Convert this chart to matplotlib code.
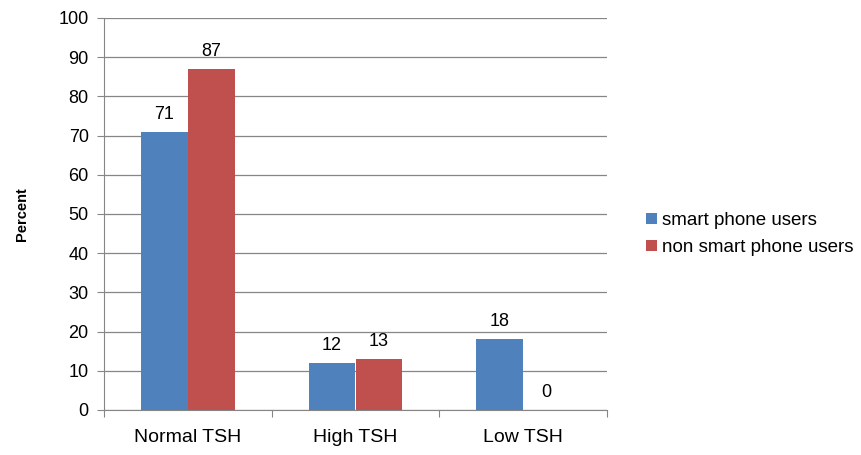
import matplotlib.pyplot as plt
import numpy as np

plt.rcParams["font.family"] = ["Liberation Sans", "DejaVu Sans"]

categories = ["Normal TSH", "High TSH", "Low TSH"]
smart = [71, 12, 18]
non_smart = [87, 13, 0]
series_names = ["smart phone users", "non smart phone users"]

fig = plt.figure(figsize=(8.61, 4.55), dpi=100)
ax = fig.add_axes([104 / 861, 45 / 455, 503 / 861, 392 / 455])

x = np.arange(len(categories))
w = 0.28
b1 = ax.bar(x - w / 2, smart, w, color="#4F81BD", label=series_names[0], zorder=3)
b2 = ax.bar(x + w / 2, non_smart, w, color="#C0504D", label=series_names[1], zorder=3)

for bars in (b1, b2):
    for r in bars:
        ax.text(r.get_x() + r.get_width() / 2, r.get_height() + 2.3, f"{r.get_height():.0f}",
                ha="center", va="bottom", fontsize=13)

ax.set_xlim(-0.5, 2.5)
ax.set_ylim(0, 100)
ax.set_yticks(range(0, 101, 10))
ax.yaxis.grid(True, color="#868686", lw=0.9, zorder=0)
ax.set_xticks([-0.5, 0.5, 1.5, 2.5], minor=False)
ax.set_xticklabels([])
ax.set_xticks(x, minor=True)
ax.set_xticklabels(categories, minor=True, fontsize=14)
ax.tick_params(axis="x", which="minor", length=0, pad=14)
ax.tick_params(axis="x", which="major", length=5, color="#868686")
ax.tick_params(axis="y", length=5, color="#868686", labelsize=13, pad=6)
for s in ["top", "right"]:
    ax.spines[s].set_visible(False)
for s in ["left", "bottom"]:
    ax.spines[s].set_color("#868686")

ax.set_ylabel("Percent", fontsize=10.5, fontweight="bold", labelpad=21)

leg = fig.legend(handles=[b1, b2], labels=series_names, loc="center left",
                 bbox_to_anchor=(0.731, 0.485), frameon=False, fontsize=13.5,
                 handlelength=0.55, handleheight=0.55, handletextpad=0.3, labelspacing=0.55)

fig.savefig("out.png", dpi=100)
